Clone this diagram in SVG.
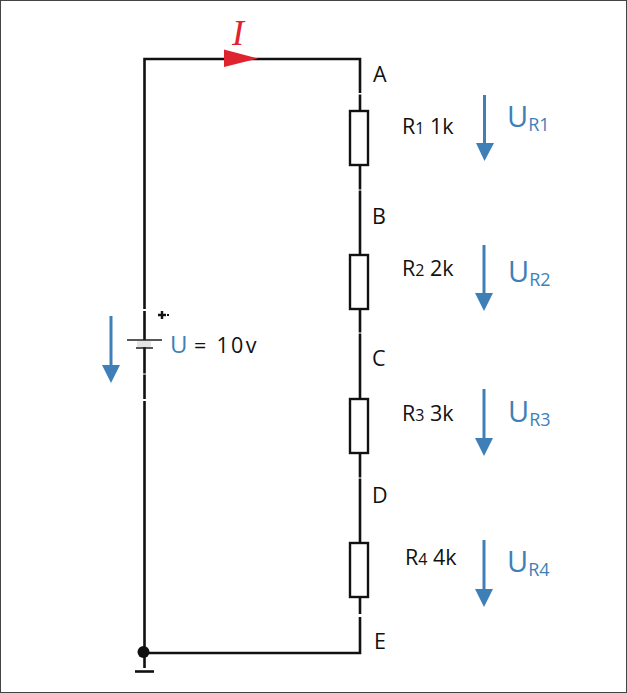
<svg xmlns="http://www.w3.org/2000/svg" width="627" height="693" viewBox="0 0 627 693">
<style>
.w{fill:none;stroke:#111;stroke-width:2.6}
.r{fill:#fff;stroke:#111;stroke-width:2.4}
.t{font-family:"Open Sans","Noto Sans",sans-serif;fill:#111;font-size:21.500px}
.b{font-family:"Open Sans","Noto Sans",sans-serif;fill:#3f7fb8}
.a{fill:none;stroke:#3f7fb8;stroke-width:3}
.h{fill:#3f7fb8}
</style>
<rect x="0.500" y="0.500" width="626" height="692" fill="#fff" stroke="#444" stroke-width="1"/>
<g id="connectors">
<path class="w" d="M144.500 309V59H360V93"/>
<path class="w" d="M360 94.500V111M360 165V189.500M360 190.500V255M360 309V332.500M360 333.500V399M360 453V477.500M360 478.500V543M360 597V614M360 617V653H144.500V401"/>
<path class="w" d="M144.500 311V340M144.500 346V373.500M144.500 374.500V399"/>
<path class="w" d="M144.500 653V668"/>
</g>
<g id="current"><path d="M224 49.500L258 58.500L224 67Z" fill="#e0242f"/>
<text x="232" y="45" font-family="Liberation Serif,serif" font-style="italic" font-size="36" fill="#e0242f">I</text></g>
<g id="battery">
<path d="M137 341H151V347H137Z" fill="#e4e4e4"/>
<path d="M127 340H162M136 348H153" stroke="#222" stroke-width="1.600" fill="none"/>
<path d="M158 315H166M162 311V319" stroke="#111" stroke-width="2.400" fill="none"/>
<rect x="167" y="314" width="2" height="2" fill="#111"/>
<text class="b" x="170" y="353" font-size="24">U</text>
<text class="t" x="194" y="353" font-size="24" letter-spacing="2.300">= 10v</text>
</g>
<g id="battery-arrow"><path class="a" d="M111 316V366"/><path class="h" d="M102 365H120L111 383Z"/></g>
<g id="ground"><circle cx="143.500" cy="652" r="6" fill="#111"/><path d="M135 671.500H154" stroke="#111" stroke-width="2.600"/></g>
<g id="node-a"><text class="t" x="373" y="82">A</text></g>
<g id="node-b"><text class="t" x="372" y="223.500">B</text></g>
<g id="node-c"><text class="t" x="372" y="365.500">C</text></g>
<g id="node-d"><text class="t" x="372" y="502.500">D</text></g>
<g id="node-e"><text class="t" x="374" y="649">E</text></g>
<g id="r1"><rect class="r" x="350" y="111" width="18" height="54"/>
<text class="t" x="402" y="133.500">R<tspan font-size="16">1</tspan> 1k</text>
<path class="a" d="M484.500 95V144"/><path class="h" d="M476 143H494L484.500 161Z"/>
<text class="b" x="507" y="127" font-size="29">U<tspan font-size="18" dy="4">R1</tspan></text></g>
<g id="r2"><rect class="r" x="350" y="255" width="18" height="54"/>
<text class="t" x="402" y="275.500">R<tspan font-size="16">2</tspan> 2k</text>
<path class="a" d="M484 245V294"/><path class="h" d="M475 293H493L484 311Z"/>
<text class="b" x="508" y="282" font-size="29">U<tspan font-size="18" dy="4">R2</tspan></text></g>
<g id="r3"><rect class="r" x="350" y="399" width="18" height="54"/>
<text class="t" x="402" y="420.500">R<tspan font-size="16">3</tspan> 3k</text>
<path class="a" d="M484 389V439"/><path class="h" d="M475 438H493L484 456Z"/>
<text class="b" x="508" y="422" font-size="29">U<tspan font-size="18" dy="4">R3</tspan></text></g>
<g id="r4"><rect class="r" x="350" y="543" width="18" height="54"/>
<text class="t" x="405" y="564.500">R<tspan font-size="16">4</tspan> 4k</text>
<path class="a" d="M484 540V590"/><path class="h" d="M475 589H493L484 607Z"/>
<text class="b" x="507" y="572" font-size="29">U<tspan font-size="18" dy="4">R4</tspan></text></g>
</svg>
